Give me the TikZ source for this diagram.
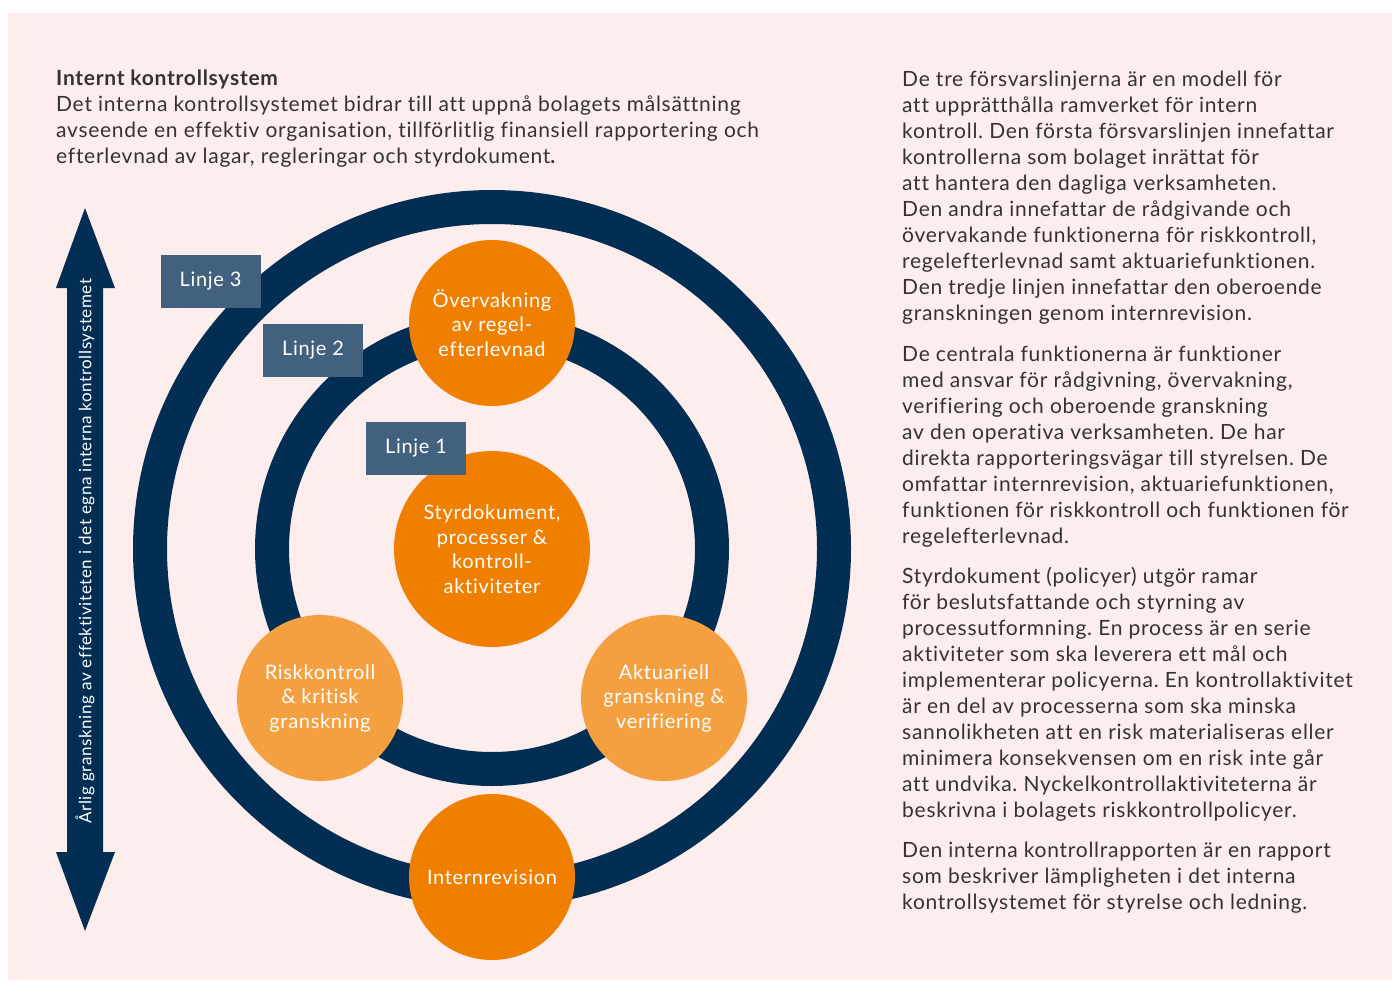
\documentclass[tikz,border=0pt]{standalone}
\usepackage{fontspec}
\setmainfont{Lato}[LetterSpace=3.5, Ligatures=NoCommon]
\usetikzlibrary{positioning}
\frenchspacing
\definecolor{bgpink}{HTML}{FDEDED}
\definecolor{navy}{HTML}{022E53}
\definecolor{slate}{HTML}{42617F}
\definecolor{darkorange}{HTML}{F07F00}
\definecolor{lightorange}{HTML}{F4A041}
\definecolor{bodytext}{HTML}{333333}
\begin{document}
\begin{tikzpicture}[x=1pt,y=-1pt]
	% Stilar
	\tikzstyle{ring} = [draw=navy, line width=34pt]
	\tikzstyle{bigdot} = [circle, fill=darkorange, text=white, align=center, minimum size=166pt, inner sep=0pt, font=\fontsize{20}{24.5}\selectfont]
	\tikzstyle{sidedot} = [bigdot, fill=lightorange]
	\tikzstyle{linje} = [rectangle, fill=slate, text=white, minimum width=100pt, minimum height=53pt, inner sep=0pt, font=\fontsize{20}{24}\selectfont]
	\tikzstyle{para} = [anchor=north west, inner sep=0pt, align=left, text=bodytext, font=\fontsize{21}{26}\selectfont]
	% Bakgrund
	\useasboundingbox (0,0) rectangle (1392,980);
	\fill[bgpink] (8,13) rectangle (1392,980);
	% Pil
	\fill[navy] (85,208) -- (115,288) -- (103,288) -- (103,852) -- (115,852) -- (85,931)
		-- (56,852) -- (67,852) -- (67,288) -- (56,288) -- cycle;
	\node (arlig) [rotate=90, text=white, inner sep=0pt, font=\fontsize{17}{18}\selectfont] at (85,551) {Årlig granskning av effektiviteten i det egna interna kontrollsystemet};
	% Ringar
	\draw[ring] (492,549) circle (342pt);
	\draw[ring] (492,549) circle (220pt);
	% Noder
	\node (overv) [bigdot] at (492,323) {Övervakning\\av regel-\\efterlevnad};
	\node (styr) [bigdot, minimum size=196pt] at (492,549) {Styrdokument,\\processer \&\\kontroll-\\aktiviteter};
	\node (risk) [sidedot] at (320,698) {Riskkontroll\\\& kritisk\\granskning};
	\node (aktu) [sidedot] at (664,698) {Aktuariell\\granskning \&\\verifiering};
	\node (intrev) [bigdot] at (492,877) {Internrevision};
	\node (linje3) [linje] at (210.5,281.5) {Linje 3};
	\node (linje2) [linje] at (313,350.5) {Linje 2};
	\node (linje1) [linje] at (416,448.5) {Linje 1};
	% Text
	\node (rubrik) [para, font=\bfseries\fontsize{21}{26}\selectfont] at (56,70) {Internt kontrollsystem};
	\node (ingress) [para] at (56,96) {Det interna kontrollsystemet bidrar till att uppnå bolagets målsättning\\
		avseende en effektiv organisation, tillförlitlig finansiell rapportering och\\
		efterlevnad av lagar, regleringar och styrdokument\textbf{.}};
	\node (stycke1) [para] at (902,71) {De tre försvarslinjerna är en modell för\\
		att upprätthålla ramverket för intern\\
		kontroll. Den första försvarslinjen innefattar\\
		kontrollerna som bolaget inrättat för\\
		att hantera den dagliga verksamheten.\\
		Den andra innefattar de rådgivande och\\
		övervakande funktionerna för riskkontroll,\\
		regelefterlevnad samt aktuariefunktionen.\\
		Den tredje linjen innefattar den oberoende\\
		granskningen genom internrevision.};
	\node (stycke2) [para] at (902,346) {De centrala funktionerna är funktioner\\
		med ansvar för rådgivning, övervakning,\\
		verifiering och oberoende granskning\\
		av den operativa verksamheten. De har\\
		direkta rapporteringsvägar till styrelsen. De\\
		omfattar internrevision, aktuariefunktionen,\\
		funktionen för riskkontroll och funktionen för\\
		regelefterlevnad.};
	\node (stycke3) [para] at (902,567) {Styrdokument (policyer) utgör ramar\\
		för beslutsfattande och styrning av\\
		processutformning. En process är en serie\\
		aktiviteter som ska leverera ett mål och\\
		implementerar policyerna. En kontrollaktivitet\\
		är en del av processerna som ska minska\\
		sannolikheten att en risk materialiseras eller\\
		minimera konsekvensen om en risk inte går\\
		att undvika. Nyckelkontrollaktiviteterna är\\
		beskrivna i bolagets riskkontrollpolicyer.};
	\node (stycke4) [para] at (902,842) {Den interna kontrollrapporten är en rapport\\
		som beskriver lämpligheten i det interna\\
		kontrollsystemet för styrelse och ledning.};
\end{tikzpicture}
\end{document}
